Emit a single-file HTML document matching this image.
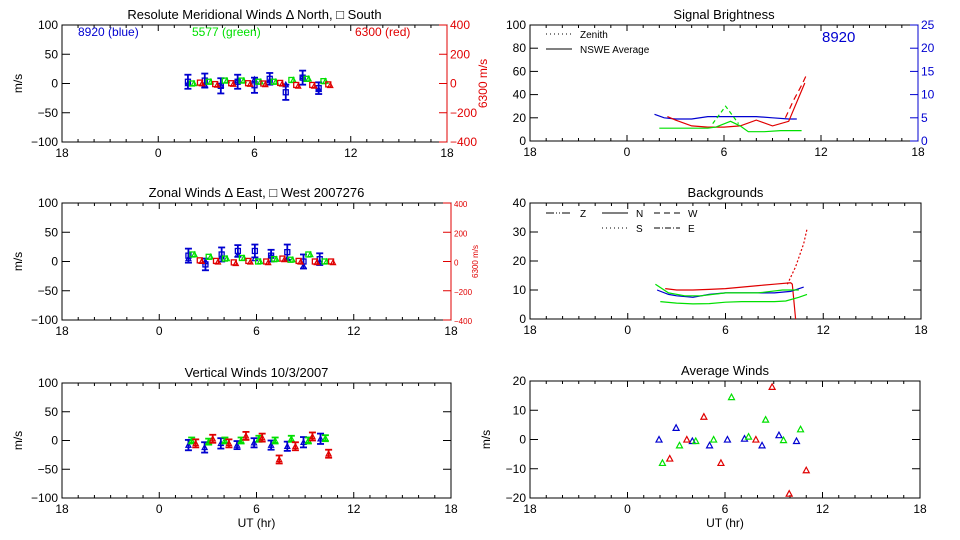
<!DOCTYPE html>
<html><head><meta charset="utf-8"><style>
html,body{margin:0;padding:0;background:#fff}
svg{display:block}
text{font-family:"Liberation Sans",sans-serif}
</style></head><body>
<svg id="c" width="960" height="540" xmlns="http://www.w3.org/2000/svg"></svg>
<script>
// ---------- data ----------
const xTickLabels = ["18","0","6","12","18"];
// meridional
const merBlueHours = [1.85,2.9,3.9,4.95,6.0,6.95,7.95,9.0,10.0];
const merBlueSq = [3,5,-4,3,-3,8,-15,10,-8];
const merBlueTri = [0,-2,-3,5,7,5,-2,12,-10];
const merBlueErr = [12,12,13,12,13,10,13,12,10];
const merGreenHours = [2.1,3.15,4.15,5.2,6.25,7.2,8.3,9.25,10.3];
const merGreen = [0,3,5,5,3,3,6,8,4];
const merRedHours = [2.6,3.55,4.55,5.6,6.55,7.6,8.6,9.6,10.6];
const merRed = [6,-4,2,2,0,4,-10,-10,-6];
// zonal
const zonBlueHours = [1.8,2.85,3.85,4.85,5.9,6.9,7.9,8.9,9.9];
const zonBlueSq = [10,-5,12,18,18,10,16,0,4];
const zonBlueTri = [5,0,8,12,5,10,5,-8,0];
const zonBlueErr = [12,10,12,10,11,10,13,12,10];
const zonGreenHours = [2.05,3.05,4.05,5.1,6.1,7.1,8.1,9.2,10.2];
const zonGreen = [12,8,5,6,0,4,3,12,0];
const zonRedHours = [2.5,3.5,4.6,5.5,6.6,7.6,8.6,9.6,10.6];
const zonRed = [8,4,-6,4,0,20,4,0,0];
// vertical
const verBlueHours = [1.8,2.8,3.8,4.8,5.85,6.9,7.9,8.9,9.95];
const verBlue = [-8,-12,-5,-8,-4,-8,-10,-3,3];
const verBlueErr = [9,9,9,7,8,8,8,9,9];
const verGreenHours = [2.0,3.05,4.05,5.05,6.15,7.15,8.15,9.2,10.25];
const verGreen = [0,-2,0,0,3,0,3,0,4];
const verRedHours = [2.25,3.3,4.3,5.35,6.35,7.4,8.4,9.45,10.45];
const verRed = [-5,3,-5,8,5,-33,-10,7,-23];
// brightness (left scale 0-100)
const brBlueHours = [1.7,2.3,3.0,4.0,5.0,6.0,7.0,8.0,9.0,10.0,10.5];
const brBlue = [23,20,19,19,21,21,21,21,20,19,19];
const brRedHours = [2.5,3.0,4.0,5.0,6.0,7.0,8.0,9.0,10.0,11.0];
const brRed = [21,18,13,12,12,13,18,13,17,50];
const brRedDashHours = [9.8,10.3,10.8,11.1];
const brRedDash = [20,35,48,57];
const brGreenHours = [2.0,3.0,4.0,5.0,5.5,6.4,7.0,7.5,8.5,9.5,10.8];
const brGreen = [11,11,11,11,12,17,13,8,8,9,9];
const brGreenDashHours = [5.3,6.1,6.9];
const brGreenDash = [15,30,15];
// backgrounds (0-40)
const bgRedHours = [2.3,3.0,4.0,5.0,6.0,7.0,8.0,9.0,10.0,10.1,10.3];
const bgRed = [10.5,10,10,10.2,10.5,11,11.5,12,12.5,12,0];
const bgRedDotHours = [9.8,10.3,10.8,11.0];
const bgRedDot = [12,18,26,31];
const bgBlueHours = [1.8,2.5,3.0,4.0,5.0,6.0,7.0,8.0,9.0,10.0,10.8];
const bgBlue = [10,8.5,8,7.5,8.5,9,9,9,9,9.5,11];
const bgGreenHours = [1.7,2.5,3.5,4.5,6.0,8.0,9.5,10.5];
const bgGreen = [12,9,8,8,9,9,10,10];
const bgGreen2Hours = [2.0,3.0,4.0,5.0,6.0,7.0,8.0,9.0,9.7,10.5,11.0];
const bgGreen2 = [6,5.5,5.2,5.3,5.8,6,6,6,6.2,7.5,8.5];
// average winds
const avBlueHours = [1.94,2.99,3.99,5.05,6.15,7.2,8.28,9.32,10.4];
const avBlue = [0,4,-0.5,-2,0,0.3,-2,1.5,-0.5];
const avGreenHours = [2.15,3.2,4.2,5.3,6.4,7.45,8.5,9.6,10.65];
const avGreen = [-8,-2,-0.5,0,14.5,1,6.8,-0.2,3.5];
const avRedHours = [2.6,3.65,4.7,5.75,7.9,8.9,9.95,11.0];
const avRed = [-6.5,0,7.8,-8,0,18,-18.5,-10.5];

const BLUE="#0000d0", GREEN="#00e000", RED="#e00000";
const svg=document.getElementById('c');
const NS="http://www.w3.org/2000/svg";
function mk(tag,attrs,parent,name,text){
  const e=document.createElementNS(NS,tag);
  for(const k in attrs)e.setAttribute(k,attrs[k]);
  
  
  if(tag==='text' && !attrs['font-size']) e.setAttribute('font-size','12');
  if(text!==undefined)e.textContent=text;
  (parent||svg).appendChild(e);return e;
}
function panel(o){
  const g=mk('g',{},svg,o.name);
  const sx=h=>o.x0+(h+6)/24*(o.x1-o.x0);
  const sy=v=>o.y1-(v-o.ymin)/(o.ymax-o.ymin)*(o.y1-o.y0);
  mk('rect',{x:o.x0,y:o.y0,width:o.x1-o.x0,height:o.y1-o.y0,fill:'none',stroke:'#000','stroke-width':1},g,'plot-frame');
  for(let h=-6;h<=18;h++){
    const L=(h%6===0)?6:3, x=sx(h);
    mk('line',{x1:x,x2:x,y1:o.y1,y2:o.y1-L,stroke:'#000'},g,'x-tick');
    mk('line',{x1:x,x2:x,y1:o.y0,y2:o.y0+L,stroke:'#000'},g,'x-tick-top');
  }
  xTickLabels.forEach((t,i)=>mk('text',{x:sx(-6+6*i),y:o.y1+15,'text-anchor':'middle'},g,'x-tick-label',t));
  o.yticks.forEach(v=>{
    const y=sy(v);
    mk('line',{x1:o.x0,x2:o.x0+8,y1:y,y2:y,stroke:'#000'},g,'y-tick');
    if(!o.rAxis) mk('line',{x1:o.x1,x2:o.x1-8,y1:y,y2:y,stroke:'#000'},g,'y-tick-right');
    mk('text',{x:o.x0-4,y:y+4,'text-anchor':'end'},g,'y-tick-label',String(v).replace('-','\u2212'));
  });
  mk('text',{x:(o.x0+o.x1)/2,y:o.y0-6,'text-anchor':'middle','font-size':13},g,'panel-title',o.title);
  if(o.ylabel) mk('text',{x:0,y:0,'text-anchor':'middle',transform:`translate(${o.x0-40},${(o.y0+o.y1)/2}) rotate(-90)`},g,'y-axis-title',o.ylabel);
  if(o.rAxis){
    const r=o.rAxis;
    mk('line',{x1:o.x1,x2:o.x1,y1:o.y0,y2:o.y1,stroke:r.color},g,'right-axis-line');
    r.ticks.forEach(v=>{
      const y=o.y1-(v-r.min)/(r.max-r.min)*(o.y1-o.y0);
      mk('line',{x1:o.x1,x2:o.x1-8,y1:y,y2:y,stroke:r.color},g,'right-y-tick');
      mk('text',{x:o.x1+3,y:y+4,fill:r.color,'font-size':r.fs||12},g,'right-y-tick-label',String(v).replace('-','\u2212'));
    });
    if(r.label) mk('text',{x:0,y:0,fill:r.color,'text-anchor':'middle','font-size':r.lfs||12,transform:`translate(${o.x1+r.loff},${(o.y0+o.y1)/2}) rotate(-90)`},g,'right-axis-title',r.label);
  }
  if(o.xlabel) mk('text',{x:(o.x0+o.x1)/2,y:o.y1+29,'text-anchor':'middle'},g,'x-axis-title',o.xlabel);
  return {g,sx,sy};
}
function tri(p,x,y,c,name,s){s=s||3;mk('path',{d:`M${x-s} ${y+s*0.85}L${x+s} ${y+s*0.85}L${x} ${y-s}Z`,fill:'none',stroke:c,'stroke-width':1.2},p.g,name);}
function sq(p,x,y,c,name){mk('rect',{x:x-2.5,y:y-2.5,width:5,height:5,fill:'none',stroke:c,'stroke-width':1.3},p.g,name);}
function err(p,x,y0,y1,c){
  mk('line',{x1:x,x2:x,y1:y0,y2:y1,stroke:c,'stroke-width':1.8},p.g,'error-bar');
  mk('line',{x1:x-3.5,x2:x+3.5,y1:y0,y2:y0,stroke:c,'stroke-width':1.8},p.g,'error-cap');
  mk('line',{x1:x-3.5,x2:x+3.5,y1:y1,y2:y1,stroke:c,'stroke-width':1.8},p.g,'error-cap');
}
function line(p,hs,vs,c,name,dash){
  const pts=hs.map((h,i)=>p.sx(h).toFixed(1)+','+p.sy(vs[i]).toFixed(1)).join(' ');
  const a={points:pts,fill:'none',stroke:c,'stroke-width':1.2};
  if(dash)a['stroke-dasharray']=dash;
  mk('polyline',a,p.g,name);
}
function windPanel(p,bh,bsq,btri,berr,gh,gv,rh,rv,rscale){
  bh.forEach((h,i)=>{
    const x=p.sx(h);
    err(p,x,p.sy(bsq[i]+berr[i]),p.sy(bsq[i]-berr[i]),BLUE);
    sq(p,x,p.sy(bsq[i]),BLUE,'blue-square-point');
    if(btri) tri(p,x,p.sy(btri[i]),BLUE,'blue-triangle-point',2.5);
  });
  gh.forEach((h,i)=>{const x=p.sx(h),y=p.sy(gv[i]);sq(p,x,y,GREEN,'green-square-point');tri(p,x+2,y,GREEN,'green-triangle-point',2.5);});
  rh.forEach((h,i)=>{const x=p.sx(h),y=p.sy(rv[i]/rscale);sq(p,x,y,RED,'red-square-point');tri(p,x+2,y+1,RED,'red-triangle-point',2.5);});
}

// Panel 1: meridional
const p1=panel({name:'meridional-panel',x0:62,x1:447,y0:25,y1:142,ymin:-100,ymax:100,yticks:[100,50,0,-50,-100],
  title:'Resolute Meridional Winds \u0394 North, \u25A1 South',ylabel:'m/s',
  rAxis:{color:RED,min:-400,max:400,ticks:[400,200,0,-200,-400],label:'6300 m/s',loff:40}});
windPanel(p1,merBlueHours,merBlueSq,merBlueTri,merBlueErr,merGreenHours,merGreen,merRedHours,merRed,4);
mk('text',{x:78,y:36,fill:BLUE},p1.g,'legend-8920-blue','8920 (blue)');
mk('text',{x:192,y:36,fill:GREEN},p1.g,'legend-5577-green','5577 (green)');
mk('text',{x:355,y:36,fill:RED},p1.g,'legend-6300-red','6300 (red)');

// Panel 2: zonal
const p2=panel({name:'zonal-panel',x0:62,x1:451,y0:203,y1:320,ymin:-100,ymax:100,yticks:[100,50,0,-50,-100],
  title:'Zonal Winds \u0394 East, \u25A1 West 2007276',ylabel:'m/s',
  rAxis:{color:RED,min:-400,max:400,ticks:[400,200,0,-200,-400],label:'6300 m/s',loff:27,fs:8,lfs:8}});
windPanel(p2,zonBlueHours,zonBlueSq,zonBlueTri,zonBlueErr,zonGreenHours,zonGreen,zonRedHours,zonRed,4);

// Panel 3: vertical
const p3=panel({name:'vertical-panel',x0:62,x1:451,y0:383,y1:498,ymin:-100,ymax:100,yticks:[100,50,0,-50,-100],
  title:'Vertical Winds 10/3/2007',ylabel:'m/s',xlabel:'UT (hr)'});
verBlueHours.forEach((h,i)=>{const x=p3.sx(h);err(p3,x,p3.sy(verBlue[i]+verBlueErr[i]),p3.sy(verBlue[i]-verBlueErr[i]),BLUE);tri(p3,x,p3.sy(verBlue[i]),BLUE,'blue-vertical-point',2.5);});
verGreenHours.forEach((h,i)=>{const x=p3.sx(h),y=p3.sy(verGreen[i]);err(p3,x,y-3,y+3,GREEN);tri(p3,x,y,GREEN,'green-vertical-point',2.5);});
verRedHours.forEach((h,i)=>{const x=p3.sx(h),y=p3.sy(verRed[i]);err(p3,x,y-4,y+4,RED);tri(p3,x,y,RED,'red-vertical-point',2.5);});

// Panel 4: signal brightness
const p4=panel({name:'brightness-panel',x0:530,x1:918,y0:25,y1:141,ymin:0,ymax:100,yticks:[100,80,60,40,20,0],
  title:'Signal Brightness',
  rAxis:{color:BLUE,min:0,max:25,ticks:[25,20,15,10,5,0]}});
line(p4,brBlueHours,brBlue,BLUE,'blue-brightness-line');
line(p4,brRedHours,brRed,RED,'red-brightness-line');
line(p4,brRedDashHours,brRedDash,RED,'red-brightness-zenith-line','6,4');
line(p4,brGreenHours,brGreen,GREEN,'green-brightness-line');
line(p4,brGreenDashHours,brGreenDash,GREEN,'green-brightness-zenith-line','4,3');
mk('line',{x1:546,x2:572,y1:34,y2:34,stroke:'#000','stroke-dasharray':'1,3'},p4.g,'legend-zenith-swatch');
mk('text',{x:580,y:38,'font-size':10},p4.g,'legend-zenith','Zenith');
mk('line',{x1:546,x2:572,y1:49,y2:49,stroke:'#000'},p4.g,'legend-nswe-swatch');
mk('text',{x:580,y:53,'font-size':10},p4.g,'legend-nswe','NSWE Average');
mk('text',{x:822,y:42,fill:BLUE,'font-size':15},p4.g,'wavelength-label','8920');

// Panel 5: backgrounds
const p5=panel({name:'backgrounds-panel',x0:530,x1:921,y0:203,y1:319,ymin:0,ymax:40,yticks:[40,30,20,10,0],title:'Backgrounds'});
line(p5,bgRedHours,bgRed,RED,'red-background-line');
line(p5,bgRedDotHours,bgRedDot,RED,'red-background-zenith-line','2,2');
line(p5,bgBlueHours,bgBlue,BLUE,'blue-background-line');
line(p5,bgGreenHours,bgGreen,GREEN,'green-background-line');
line(p5,bgGreen2Hours,bgGreen2,GREEN,'green-background-lower-line');
[['Z','8,2,1,2,1,2',546,213,580],['N','',602,213,636],['W','6,4',654,213,688],['S','1,3',602,228,636],['E','6,2,1,2',654,228,688]].forEach(l=>{
  const a={x1:l[2],x2:l[2]+26,y1:l[3],y2:l[3],stroke:'#000'};if(l[1])a['stroke-dasharray']=l[1];
  mk('line',a,p5.g,'legend-'+l[0].toLowerCase()+'-swatch');
  mk('text',{x:l[4],y:l[3]+4,'font-size':10},p5.g,'legend-'+l[0].toLowerCase(),l[0]);
});

// Panel 6: average winds
const p6=panel({name:'average-winds-panel',x0:530,x1:920,y0:381,y1:498,ymin:-20,ymax:20,yticks:[20,10,0,-10,-20],
  title:'Average Winds',ylabel:'m/s',xlabel:'UT (hr)'});
avBlueHours.forEach((h,i)=>tri(p6,p6.sx(h),p6.sy(avBlue[i]),BLUE,'blue-average-point'));
avGreenHours.forEach((h,i)=>tri(p6,p6.sx(h),p6.sy(avGreen[i]),GREEN,'green-average-point'));
avRedHours.forEach((h,i)=>tri(p6,p6.sx(h),p6.sy(avRed[i]),RED,'red-average-point'));
</script>
</body></html>
